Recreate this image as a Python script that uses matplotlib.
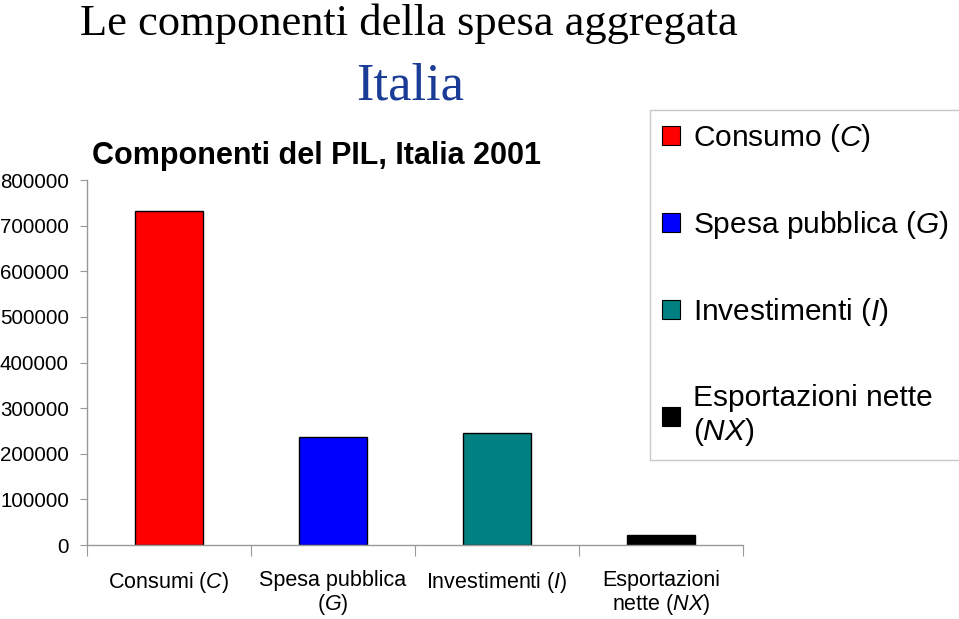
import matplotlib
matplotlib.use("Agg")
import matplotlib.pyplot as plt
from matplotlib.patches import Patch

plt.rcParams["font.family"] = ["Liberation Sans", "DejaVu Sans"]
plt.rcParams["mathtext.fontset"] = "custom"
plt.rcParams["mathtext.rm"] = "Liberation Sans"
plt.rcParams["mathtext.it"] = "Liberation Sans:italic"

# data (milioni di euro, Italia 2001)
categories = ["Consumi ($\\it{C}$)", "Spesa pubblica\n($\\it{G}$)",
              "Investimenti ($\\it{I}$)", "Esportazioni\nnette ($\\it{NX}$)"]
values = [732000, 236000, 246000, 22000]
colors = ["#ff0000", "#0000ff", "#008080", "#000000"]
legend_labels = ["Consumo ($\\it{C}$)", "Spesa pubblica ($\\it{G}$)",
                 "Investimenti ($\\it{I}$)", "Esportazioni nette\n($\\it{NX}$)"]
yticks = [0, 100000, 200000, 300000, 400000, 500000, 600000, 700000, 800000]

fig = plt.figure(figsize=(9.59, 6.19), dpi=100)
ax = fig.add_axes([0.0907, 0.1195, 0.6841, 0.5897])

x = range(len(values))
ax.bar(x, values, width=0.41, color=colors, edgecolor="black", linewidth=1)

ax.set_xlim(-0.5, len(values) - 0.5)
ax.set_ylim(0, 800000)
ax.set_yticks(yticks)
ax.set_yticklabels([str(v) for v in yticks], fontsize=14.8)

# category labels between boundary ticks
ax.set_xticks([i - 0.5 for i in range(len(values) + 1)])
ax.set_xticklabels([])
ax.set_xticks(list(x), minor=True)
ax.set_xticklabels(categories, minor=True, fontsize=15.5, linespacing=1.05)
ax.tick_params(axis="x", which="minor", length=0, pad=18)
ax.tick_params(axis="x", which="major", length=8, color="#999999", direction="out")
ax.tick_params(axis="y", length=5, color="#999999", pad=8)

for s in ["top", "right"]:
    ax.spines[s].set_visible(False)
for s in ["left", "bottom"]:
    ax.spines[s].set_color("#999999")
    ax.spines[s].set_linewidth(1)

# legend
handles = [Patch(facecolor=c, edgecolor="black", linewidth=0.8) for c in colors]
leg = fig.legend(handles, legend_labels, loc="upper left",
                 bbox_to_anchor=(650 / 959, 1 - 110 / 619), fontsize=21.5,
                 frameon=True, fancybox=False, edgecolor="#bbbbbb",
                 handlelength=0.6, handleheight=0.6, handletextpad=0.45,
                 labelspacing=1.85, borderpad=0.4, borderaxespad=0)
leg.get_frame().set_linewidth(1)

# titles
fig.text(409 / 959, 1 - 35 / 619, "Le componenti della spesa aggregata",
         family=["Liberation Serif", "DejaVu Serif"], fontsize=32,
         ha="center", va="baseline", color="black")
fig.text(410 / 959, 1 - 100 / 619, "Italia",
         family=["Liberation Serif", "DejaVu Serif"], fontsize=38,
         ha="center", va="baseline", color="#1a3c96")
fig.text(317 / 959, 1 - 164 / 619, "Componenti del PIL, Italia 2001",
         fontsize=22, fontweight="bold", ha="center", va="baseline")

fig.savefig("out.png", dpi=100)
